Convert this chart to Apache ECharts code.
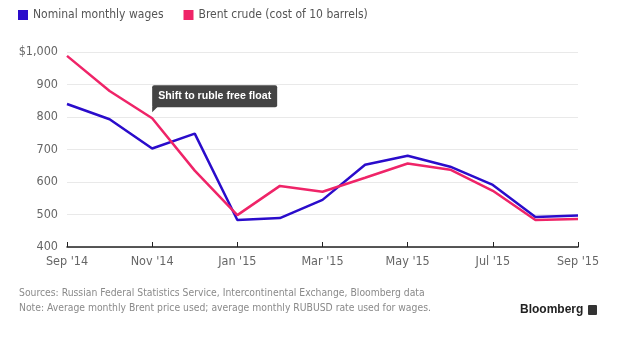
<!DOCTYPE html>
<html><head><meta charset="utf-8">
<script src="https://cdn.jsdelivr.net/npm/echarts@6/dist/echarts.min.js"></script>
<style>html,body{margin:0;padding:0;background:#fff}#c{width:620px;height:340px}</style>
</head><body><div id="c"></div>
<script>
const months = ["Sep '14","Oct '14","Nov '14","Dec '14","Jan '15","Feb '15","Mar '15","Apr '15","May '15","Jun '15","Jul '15","Aug '15","Sep '15"];
const wages = [840, 793, 703, 749, 483, 489, 545, 653, 681, 647, 591, 492, 497];
const brent = [988, 880, 796, 635, 498, 588, 570, 613, 657, 638, 573, 483, 486];
const yTicks = [400, 500, 600, 700, 800, 900, 1000];
const annotationMonth = "Nov '14";
const annotationText = "Shift to ruble free float";
const sourceLine = "Sources: Russian Federal Statistics Service, Intercontinental Exchange, Bloomberg data";
const noteLine = "Note: Average monthly Brent price used; average monthly RUBUSD rate used for wages.";

const FONT = "'DejaVu Sans Condensed','DejaVu Sans',sans-serif";
const BLUE = '#2a0ccb', PINK = '#ef2468';
const chart = echarts.init(document.getElementById('c'), null, {renderer:'canvas'});
chart.setOption({
  animation:false,
  textStyle:{fontFamily:FONT},
  grid:{left:67,right:42,top:52,bottom:93,containLabel:false},
  legend:{left:13,top:4,itemWidth:10,itemHeight:10,itemGap:20,icon:'rect',
    textStyle:{fontFamily:FONT,fontSize:12,color:'#555'},
    data:['Nominal monthly wages','Brent crude (cost of 10 barrels)']},
  xAxis:{type:'category',data:months,boundaryGap:false,
    axisLine:{lineStyle:{color:'#222',width:1.5}},
    axisTick:{inside:true,length:5,interval:1,lineStyle:{color:'#222'}},
    axisLabel:{interval:1,color:'#666',fontSize:12.5,fontFamily:FONT,margin:8},
    splitLine:{show:false}},
  yAxis:{type:'value',min:yTicks[0],max:yTicks[yTicks.length-1],interval:100,
    axisLine:{show:false},axisTick:{show:false},
    axisLabel:{color:'#666',fontSize:12.5,fontFamily:FONT,margin:9,
      formatter:v=>v===1000?'$1,000':String(v)},
    splitLine:{lineStyle:{color:'#e9e9e9',width:1}}},
  series:[
    {name:'Nominal monthly wages',type:'line',data:wages,symbol:'none',
      lineStyle:{color:BLUE,width:2.5},itemStyle:{color:BLUE}},
    {name:'Brent crude (cost of 10 barrels)',type:'line',data:brent,symbol:'none',
      lineStyle:{color:PINK,width:2.5},itemStyle:{color:PINK},
      markPoint:{silent:true,data:[{coord:[annotationMonth,brent[months.indexOf(annotationMonth)]],
        symbol:'path://M0,0L10,0L0,10Z',symbolSize:[6,6],symbolOffset:[3,-9],
        itemStyle:{color:'#444'},
        label:{show:true,formatter:annotationText,position:[0,-21],
          backgroundColor:'#444',color:'#fff',fontWeight:'bold',fontSize:10.6,
          fontFamily:"'Liberation Sans',Arial,sans-serif",
          padding:[5,6,5,6],lineHeight:12,borderRadius:2}}]}}
  ],
  graphic:[
    {type:'text',left:19,top:288,style:{text:sourceLine,font:"10.3px "+FONT,fill:'#8a8a8a'}},
    {type:'text',left:19,top:303,style:{text:noteLine,font:"10.3px "+FONT,fill:'#8a8a8a'}},
    {type:'text',left:520,top:304,style:{text:'Bloomberg',font:"bold 12px 'Liberation Sans',Arial,sans-serif",fill:'#222'}},
    {type:'rect',left:588,top:305,shape:{width:9,height:10,r:1},style:{fill:'#333'}}
  ]
});
</script></body></html>
